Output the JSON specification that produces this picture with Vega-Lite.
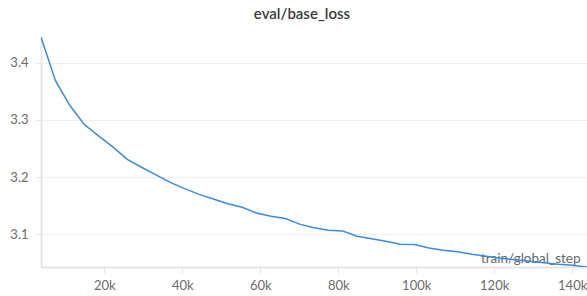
{
  "$schema": "https://vega.github.io/schema/vega-lite/v6.json",
  "width": 546,
  "height": 230,
  "autosize": "none",
  "padding": {"left": 41, "top": 37, "right": 0, "bottom": 29},
  "background": "white",
  "config": {
    "font": "Lato",
    "view": {"stroke": null}
  },
  "title": {
    "text": "eval/base_loss",
    "anchor": "middle",
    "dx": -12,
    "offset": 15,
    "fontSize": 15,
    "fontWeight": 600,
    "color": "#3a3a3a",
    "font": "Lato"
  },
  "data": {
    "values": [
      {"step": 3740, "loss": 3.4447},
      {"step": 7426, "loss": 3.369},
      {"step": 11112, "loss": 3.3255},
      {"step": 14798, "loss": 3.2923},
      {"step": 18484, "loss": 3.272},
      {"step": 22170, "loss": 3.253},
      {"step": 25856, "loss": 3.231},
      {"step": 29542, "loss": 3.2173},
      {"step": 33228, "loss": 3.204},
      {"step": 36914, "loss": 3.191},
      {"step": 40600, "loss": 3.180},
      {"step": 44286, "loss": 3.170},
      {"step": 47972, "loss": 3.162},
      {"step": 51658, "loss": 3.1536},
      {"step": 55344, "loss": 3.1475},
      {"step": 59030, "loss": 3.1376},
      {"step": 62716, "loss": 3.1318},
      {"step": 66402, "loss": 3.1277},
      {"step": 70088, "loss": 3.118},
      {"step": 73774, "loss": 3.1117},
      {"step": 77460, "loss": 3.1073},
      {"step": 81146, "loss": 3.106},
      {"step": 84832, "loss": 3.097},
      {"step": 88518, "loss": 3.0925},
      {"step": 92204, "loss": 3.0881},
      {"step": 95890, "loss": 3.0829},
      {"step": 99576, "loss": 3.0824},
      {"step": 103262, "loss": 3.0764},
      {"step": 106948, "loss": 3.0724},
      {"step": 110634, "loss": 3.0698},
      {"step": 114320, "loss": 3.0654},
      {"step": 118006, "loss": 3.062},
      {"step": 121692, "loss": 3.0585},
      {"step": 125378, "loss": 3.056},
      {"step": 129064, "loss": 3.0532},
      {"step": 132750, "loss": 3.0506},
      {"step": 136436, "loss": 3.048},
      {"step": 140122, "loss": 3.0462},
      {"step": 143808, "loss": 3.0432}
    ]
  },
  "mark": {"type": "line", "color": "#3a8ddb", "strokeWidth": 1.5, "clip": true},
  "encoding": {
    "x": {
      "field": "step",
      "type": "quantitative",
      "scale": {"domain": [3740, 143808], "nice": false, "zero": false},
      "axis": {
        "values": [20000, 40000, 60000, 80000, 100000, 120000, 140000],
        "format": "~s",
        "title": "train/global_step",
        "titleAnchor": "end",
        "titleAlign": "right",
        "titleBaseline": "alphabetic",
        "titleX": 539,
        "titleY": -5,
        "titleFontSize": 13.5,
        "titleFontWeight": "normal",
        "titleColor": "#666666",
        "labelColor": "#6b6b6b",
        "labelFontSize": 13,
        "labelPadding": 6,
        "domainColor": "#e6e6e6",
        "domainWidth": 2,
        "tickColor": "#e6e6e6",
        "tickSize": 6,
        "grid": false
      }
    },
    "y": {
      "field": "loss",
      "type": "quantitative",
      "scale": {"domain": [3.0432, 3.4447], "nice": false, "zero": false},
      "axis": {
        "values": [3.1, 3.2, 3.3, 3.4],
        "format": ".1f",
        "title": null,
        "labelColor": "#6b6b6b",
        "labelFontSize": 13,
        "labelPadding": 8,
        "domainColor": "#e6e6e6",
        "domainWidth": 2,
        "tickColor": "#e6e6e6",
        "tickSize": 5,
        "grid": true,
        "gridColor": "#efefef",
        "gridWidth": 1
      }
    }
  }
}
